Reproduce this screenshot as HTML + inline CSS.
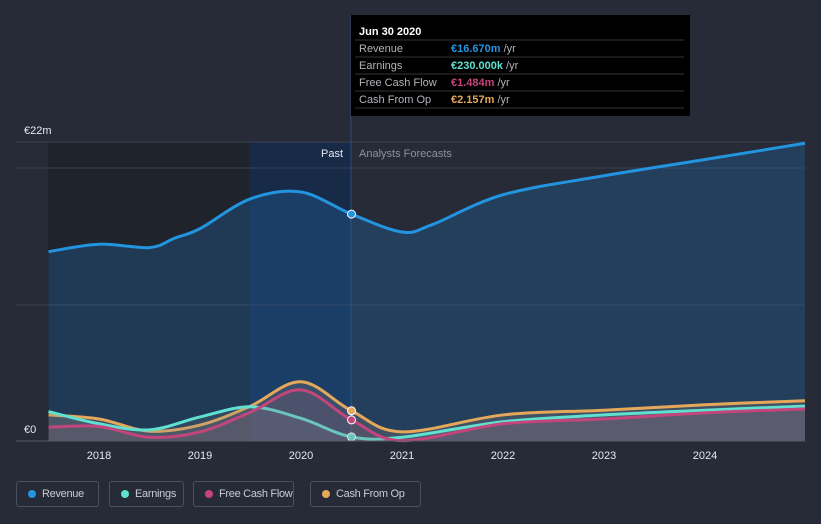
<!DOCTYPE html>
<html><head><meta charset="utf-8"><style>
body{margin:0;background:#262b37;font-family:"Liberation Sans",sans-serif;}
#wrap{position:relative;width:821px;height:524px;overflow:hidden}
.leg{position:absolute;top:481px;height:26px;border:1px solid #4a505c;border-radius:3px;color:#c9ccd2;font-size:11px;letter-spacing:-0.3px;line-height:24px;box-sizing:border-box;padding-left:25px;white-space:nowrap;overflow:hidden}
.leg i{position:absolute;left:11px;top:8px;width:8px;height:8px;border-radius:50%}
</style></head><body><div id="wrap">
<svg id="svg" width="821" height="524" style="position:absolute;left:0;top:0"></svg>
<div class="leg" style="left:16px;width:83px"><i style="background:#2394e0"></i>Revenue</div>
<div class="leg" style="left:109px;width:75px"><i style="background:#5fe0d0"></i>Earnings</div>
<div class="leg" style="left:193px;width:101px"><i style="background:#c2457c"></i>Free Cash Flow</div>
<div class="leg" style="left:310px;width:111px"><i style="background:#e5a85b"></i>Cash From Op</div>
</div>
<script>
const years=[2017.5,2018,2018.5,2018.75,2019,2019.5,2020,2020.5,2021,2021.3,2022,2023,2024,2024.99];
const revenue=[13.9,14.45,14.2,14.9,15.6,17.8,18.3,16.67,15.35,15.9,18.1,19.5,20.7,21.9];
const tEarn=[2017.5,2018,2018.5,2019,2019.5,2020,2020.5,2021,2022,2023,2024,2024.99];
const earnings=[2.1,1.2,0.75,1.7,2.45,1.6,0.23,0.2,1.35,1.85,2.2,2.5];
const fcf=[0.95,1.0,0.2,0.6,2.05,3.7,1.484,-0.05,1.2,1.55,2.0,2.3];
const cfo=[1.85,1.55,0.65,1.1,2.5,4.3,2.157,0.6,1.85,2.2,2.6,2.9];
const xTicks=[2018,2019,2020,2021,2022,2023,2024];
const X=t=>99+(t-2018)*101, Y=v=>440-v*13.55;
const svg=document.getElementById('svg');const NS='http://www.w3.org/2000/svg';
function el(tag,a,txt,parent){const e=document.createElementNS(NS,tag);for(const k in a)e.setAttribute(k,a[k]);if(txt!=null)e.textContent=txt;(parent||svg).appendChild(e);return e;}
function path(ts,vs){const p=ts.map((t,i)=>[X(t),Y(vs[i])]);let d='M'+p[0];for(let i=0;i<p.length-1;i++){const a=p[i-1]||p[i],b=p[i],c=p[i+1],e=p[i+2]||c;d+=` C${b[0]+(c[0]-a[0])/6},${b[1]+(c[1]-a[1])/6} ${c[0]-(e[0]-b[0])/6},${c[1]-(e[1]-b[1])/6} ${c[0]},${c[1]}`;}return d;}
let r=el('rect',{x:48,y:142,width:303,height:299,fill:'#1f232c'});
r=el('rect',{x:250,y:142,width:101,height:299,fill:'#172a48'});
[142,168,305].forEach(y=>{const g=el('line',{x1:16,x2:805,y1:y,y2:y,stroke:'#3b404c'});});
el('line',{x1:351,x2:351,y1:15,y2:441,stroke:'#2f4a78'});
const series=[[years,revenue,'#2394e0','rgba(35,100,160,0.35)','revenue'],[tEarn,cfo,'#e5a85b','rgba(150,130,120,0.25)','cash-from-op'],[tEarn,earnings,'#5fe0d0','rgba(120,140,150,0.2)','earnings'],[tEarn,fcf,'#c2457c','rgba(150,90,120,0.2)','free-cash-flow']];
series.forEach(([ts,vs,c,f,n])=>{const d=path(ts,vs);
 let a=el('path',{d:d+` L${X(ts[ts.length-1])},441 L${X(ts[0])},441 Z`,fill:f});
 let l=el('path',{d:d,fill:'none',stroke:c,'stroke-width':3});
 const i=ts.indexOf(2020.5);let m=el('circle',{cx:X(2020.5),cy:Y(vs[i]),r:4,fill:c,stroke:'#fff','stroke-width':1});});
el('line',{x1:16,x2:805,y1:441,y2:441,stroke:'#555b66'});
xTicks.forEach(t=>{const e=el('text',{x:X(t),y:459,fill:'#e6e8eb','font-size':11,'text-anchor':'middle'},String(t));});
let t=el('text',{x:24,y:134,fill:'#e6e8eb','font-size':11},'€22m');
t=el('text',{x:24,y:433,fill:'#e6e8eb','font-size':11},'€0');
t=el('text',{x:343,y:157,fill:'#e6e8eb','font-size':11,'text-anchor':'end'},'Past');
t=el('text',{x:359,y:157,fill:'#8c919a','font-size':11},'Analysts Forecasts');
const tt=el('rect',{x:351,y:15,width:339,height:101,fill:'#000'});
el('text',{x:359,y:35,fill:'#fff','font-size':11,'font-weight':'bold'},'Jun 30 2020');
const rows=[['Revenue','€16.670m','#2394e0'],['Earnings','€230.000k','#5fe0d0'],['Free Cash Flow','€1.484m','#c2457c'],['Cash From Op','€2.157m','#e5a85b']];
rows.forEach((rw,i)=>{const y=52+i*17;el('line',{x1:355,x2:684,y1:y-12,y2:y-12,stroke:'#333'});
 el('text',{x:359,y:y,fill:'#b0b4ba','font-size':11},rw[0]);
 const v=el('text',{x:451,y:y,fill:'#b0b4ba','font-size':11});
 el('tspan',{fill:rw[2],'font-weight':'bold'},rw[1],v);
 el('tspan',{},' /yr',v);});
el('line',{x1:355,x2:684,y1:108,y2:108,stroke:'#333'});
</script></body></html>
